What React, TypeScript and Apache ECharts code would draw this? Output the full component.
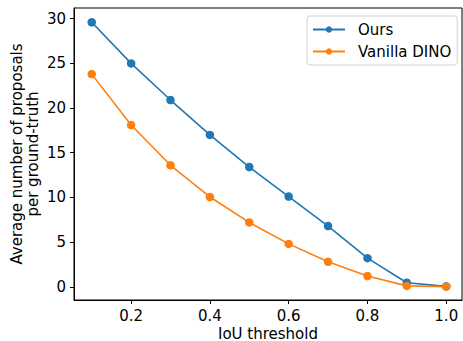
import React, { useEffect, useRef } from "react";
import * as echarts from "echarts";

const thresholds = [0.1, 0.2, 0.3, 0.4, 0.5, 0.6, 0.7, 0.8, 0.9, 1.0];
const ours = [29.6, 25.0, 20.9, 17.0, 13.4, 10.1, 6.8, 3.2, 0.45, 0.05];
const vanillaDino = [23.8, 18.1, 13.6, 10.05, 7.2, 4.8, 2.8, 1.2, 0.1, 0.02];
const xTicks = [0.2, 0.4, 0.6, 0.8, 1.0];
const yTicks = [0, 5, 10, 15, 20, 25, 30];
const seriesNames = ["Ours", "Vanilla DINO"];

const FONT = "DejaVu Sans";
const FS = 15;

export default function App() {
  const ref = useRef<HTMLDivElement>(null);
  useEffect(() => {
    if (!ref.current) return;
    const chart = echarts.init(ref.current, undefined, { renderer: "svg" });
    const mk = (name: string, vals: number[], color: string) => ({
      name,
      type: "line",
      data: thresholds.map((t, i) => [t, vals[i]]),
      symbol: "circle",
      symbolSize: 8.5,
      showSymbol: true,
      lineStyle: { color, width: 1.6 },
      itemStyle: { color },
      z: 3,
    });
    chart.setOption({
      animation: false,
      backgroundColor: "#ffffff",
      textStyle: { fontFamily: FONT },
      grid: {
        left: 74,
        top: 8,
        right: 1,
        bottom: 41,
        show: true,
        borderColor: "#000",
        borderWidth: 1,
        containLabel: false,
        outerBoundsMode: "none",
      },
      legend: {
        orient: "vertical",
        left: 307,
        top: 16,
        data: seriesNames,
        backgroundColor: "#fff",
        borderColor: "#d0d0d0",
        borderWidth: 1,
        borderRadius: 3,
        padding: [6, 6, 6, 5],
        itemGap: 7,
        itemWidth: 32,
        itemHeight: 8,
        textStyle: { fontFamily: FONT, fontSize: FS, color: "#000", padding: [0, 0, 0, 8] },
      },
      xAxis: {
        type: "value",
        min: 0.055,
        max: 1.04,
        name: "IoU threshold",
        nameLocation: "middle",
        nameGap: 26,
        nameMoveOverlap: false,
        nameTextStyle: { fontFamily: FONT, fontSize: FS, color: "#000" },
        axisLine: { show: true, onZero: false, lineStyle: { color: "#000", width: 1 } },
        axisTick: { show: true, length: 4, lineStyle: { color: "#000" }, customValues: xTicks },
        axisLabel: {
          fontFamily: FONT,
          fontSize: FS,
          color: "#000",
          margin: 8,
          customValues: xTicks,
          formatter: (v: number) => v.toFixed(1),
        },
        splitLine: { show: false },
      },
      yAxis: {
        type: "value",
        min: -1.48,
        max: 31.2,
        name: "Average number of proposals\nper ground-truth",
        nameLocation: "middle",
        nameGap: 33,
        nameMoveOverlap: false,
        nameTextStyle: { fontFamily: FONT, fontSize: FS, color: "#000", lineHeight: 16 },
        axisLine: { show: true, onZero: false, lineStyle: { color: "#000", width: 1 } },
        axisTick: { show: true, length: 4, lineStyle: { color: "#000" }, customValues: yTicks },
        axisLabel: {
          fontFamily: FONT,
          fontSize: FS,
          color: "#000",
          margin: 8,
          customValues: yTicks,
        },
        splitLine: { show: false },
      },
      series: [
        mk(seriesNames[0], ours, "#1f77b4"),
        mk(seriesNames[1], vanillaDino, "#ff7f0e"),
      ],
    });
    return () => chart.dispose();
  }, []);
  return (
    <div
      ref={ref}
      style={{ position: "absolute", left: 0, top: 0, width: 463, height: 341 }}
    />
  );
}
